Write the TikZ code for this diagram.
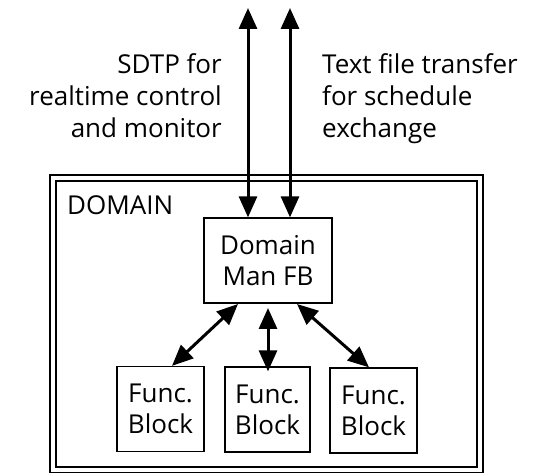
\documentclass[tikz,border=0pt]{standalone}
\usepackage{fontspec}
\setmainfont{Open Sans}
\usetikzlibrary{arrows.meta}
\tikzset{
  box/.style={draw, line width=1.3pt, inner sep=0pt, align=center, font=\fontsize{26}{31}\selectfont},
  lbl/.style={inner sep=0pt, font=\fontsize{26}{32}\selectfont},
  dbl/.style={line width=3pt, {Triangle[length=21pt,width=18pt]}-{Triangle[length=21pt,width=18pt]}},
  frame/.style={line width=1.4pt}
}
\begin{document}
\begin{tikzpicture}[x=1pt,y=-1pt]
\useasboundingbox (0,0) rectangle (544,473);
% double frame
\draw[frame] (50,175) rectangle (483,473);
\draw[frame] (56,181) rectangle (477,467);
\node[lbl, anchor=north west] (dl) at (67,195) {DOMAIN};
% domain manager box
\node[box, minimum width=128pt, minimum height=85pt] (dm) at (268,260.5) {Domain\\Man FB};
% function blocks
\node[box, minimum width=87pt, minimum height=85pt] (f1) at (160.5,409) {Func.\\Block};
\node[box, minimum width=85pt, minimum height=85pt] (f2) at (267.5,409.5) {Func.\\Block};
\node[box, minimum width=87pt, minimum height=85pt] (f3) at (373.5,410.5) {Func.\\Block};
% external arrows
\coordinate (t1) at (248,8);
\coordinate (t2) at (290,8);
\draw[dbl] (t1) -- (dm.north -| t1);
\draw[dbl] (t2) -- (dm.north -| t2);
% labels
\node[lbl, anchor=north east, align=right] (ls) at (222,53) {SDTP for\\realtime control\\and monitor};
\node[lbl, anchor=north west, align=left] (rs) at (322,53) {Text file transfer\\for schedule\\exchange};
% internal arrows
\coordinate (a1) at (238,304);
\coordinate (a3) at (297,304);
\coordinate (a2) at (268,308);
\draw[dbl] (a1) -- (f1.north -| 172,0);
\draw[dbl] (a2) -- ([yshift=-5pt]f2.north -| a2);
\draw[dbl] (a3) -- (f3.north -| 369,0);
\end{tikzpicture}
\end{document}
